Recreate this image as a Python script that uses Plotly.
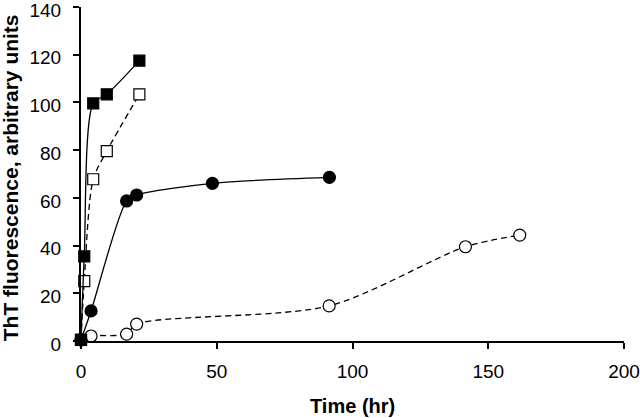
import plotly.graph_objects as go

# Data
fsq_x = [0, 1.2, 4.5, 9.5, 21.5]
fsq_y = [0.5, 35.5, 99.6, 103.4, 117.5]

osq_x = [0, 1.2, 4.5, 9.5, 21.5]
osq_y = [0.5, 25.1, 67.8, 79.6, 103.4]

fci_x = [0, 3.7, 16.8, 20.5, 48.4, 91.5]
fci_y = [0.5, 12.6, 58.7, 61.2, 66.1, 68.6]

oci_x = [0, 3.7, 16.8, 20.5, 91.4, 141.6, 161.6]
oci_y = [0.5, 2.1, 2.9, 7.1, 14.7, 39.5, 44.4]

x_ticks = [0, 50, 100, 150, 200]
y_ticks = [0, 20, 40, 60, 80, 100, 120, 140]

fig = go.Figure()

def add(x, y, symbol, fill, dash, size):
    fig.add_trace(go.Scatter(
        x=x, y=y, mode="lines+markers",
        line=dict(color="black", width=1.3, dash=dash, shape="spline", smoothing=0.8),
        marker=dict(symbol=symbol, size=size, color=fill,
                    line=dict(color="black", width=1.2)),
        showlegend=False, cliponaxis=False))

add(oci_x, oci_y, "circle", "white", "6px,4px", 12)
add(fci_x, fci_y, "circle", "black", "solid", 12)
add(osq_x, osq_y, "square", "white", "6px,4px", 11)
add(fsq_x, fsq_y, "square", "black", "solid", 11)

fig.update_layout(
    width=640, height=418,
    margin=dict(l=81, r=16, t=7, b=77, autoexpand=False),
    paper_bgcolor="white", plot_bgcolor="white",
    font=dict(family="Liberation Sans, Arial", size=19, color="black"),
    xaxis=dict(range=[0, 200], tickvals=x_ticks, showgrid=False, zeroline=False,
               showline=True, linecolor="black", linewidth=2,
               ticks="outside", ticklen=6, tickwidth=2, tickcolor="black",
               tickfont=dict(size=19), automargin=False, ticklabeloverflow="allow",
               ticklabelstandoff=6),
    yaxis=dict(range=[0, 140], tickvals=y_ticks, showgrid=False, zeroline=False,
               showline=True, linecolor="black", linewidth=2,
               ticks="outside", ticklen=6, tickwidth=2, tickcolor="black",
               tickfont=dict(size=19), automargin=False, ticklabeloverflow="allow",
               ticklabelstandoff=8, ticklabelshift=3),
    annotations=[
        dict(text="<b>Time (hr)</b>", xref="paper", yref="paper", x=0.5, y=-0.195,
             xanchor="center", yanchor="middle", showarrow=False, font=dict(size=20)),
        dict(text="<b>ThT fluorescence, arbitrary units</b>", xref="paper", yref="paper",
             x=-0.131, y=0.49, xanchor="center", yanchor="middle", textangle=-90,
             showarrow=False, font=dict(size=21)),
    ],
)

fig.write_html("out.html", config={"displayModeBar": False},
               post_script="document.body.style.margin='0';")
